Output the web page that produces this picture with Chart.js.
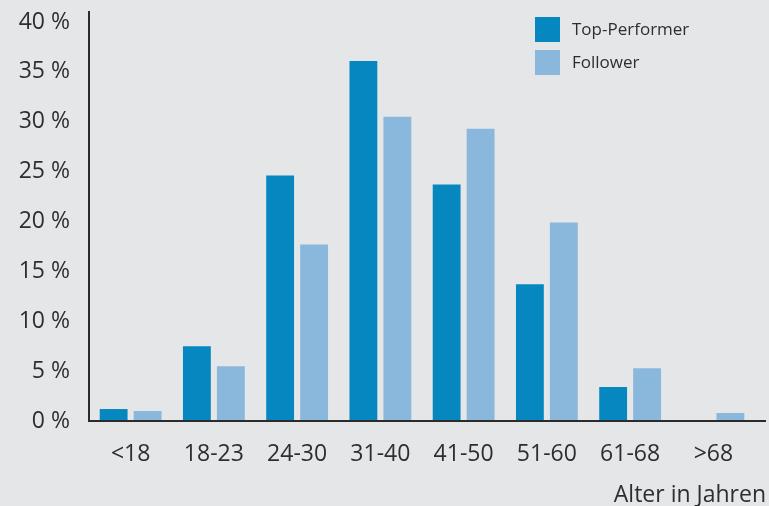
<!DOCTYPE html>
<html>
<head>
<meta charset="utf-8">
<script src="https://cdn.jsdelivr.net/npm/chart.js@4/dist/chart.umd.min.js"></script>
<style>
  html, body { margin: 0; padding: 0; background: #e5e6e8; }
  #wrap { width: 769px; height: 506px; position: relative; }
</style>
</head>
<body>
<div id="wrap"><canvas id="ageChart" width="769" height="506"></canvas></div>
<script>
// Altersverteilung, Werte in Prozent
const categories = ['<18', '18-23', '24-30', '31-40', '41-50', '51-60', '61-68', '>68'];
const topPerformer = [1.2, 7.5, 24.6, 36.1, 23.7, 13.7, 3.4, 0];
const follower = [1.0, 5.5, 17.7, 30.5, 29.3, 19.9, 5.3, 0.8];
const seriesNames = ['Top-Performer', 'Follower'];
const yTicks = [0, 5, 10, 15, 20, 25, 30, 35, 40];
const axisTitle = 'Alter in Jahren';

const textColor = '#2e2e2e';
const fontFamily = '"Open Sans", "Noto Sans", sans-serif';

// legend, axis title and the longer baseline drawn by hand
const extras = {
  id: 'extras',
  afterDraw(chart) {
    const c = chart.ctx;
    const area = chart.chartArea;
    c.save();
    // x baseline (runs a bit past the plot area)
    c.strokeStyle = '#2b2b2b';
    c.lineWidth = 2;
    c.beginPath();
    c.moveTo(area.left - 1, area.bottom);
    c.lineTo(766, area.bottom);
    c.stroke();

    // legend
    c.font = '17px ' + fontFamily;
    c.textBaseline = 'middle';
    c.textAlign = 'left';
    chart.data.datasets.forEach((ds, i) => {
      const y = 17 + i * 33;
      c.fillStyle = ds.backgroundColor;
      c.fillRect(535, y, 25, 25);
      c.fillStyle = textColor;
      c.fillText(ds.label, 572, y + 13);
    });

    // axis title
    c.font = '23px ' + fontFamily;
    c.textAlign = 'right';
    c.fillText(axisTitle, 766, 495);
    c.restore();
  }
};

const ctx = document.getElementById('ageChart').getContext('2d');
new Chart(ctx, {
  type: 'bar',
  data: {
    labels: categories,
    datasets: [{
      label: seriesNames[0],
      data: topPerformer,
      backgroundColor: '#0787c0',
      categoryPercentage: 0.816,
      barPercentage: 0.82
    }, {
      label: seriesNames[1],
      data: follower,
      backgroundColor: '#8ab7dc',
      categoryPercentage: 0.816,
      barPercentage: 0.82
    }]
  },
  options: {
    responsive: false,
    animation: false,
    layout: { padding: { top: 12, right: 14, bottom: 0, left: 0 } },
    scales: {
      y: {
        min: 0,
        max: 41,
        afterFit: (scale) => {
          scale.width = 89;
          scale.paddingTop = 0;
          scale.paddingBottom = 0;
        },
        afterBuildTicks: (scale) => { scale.ticks = yTicks.map(v => ({ value: v })); },
        grid: { display: false, drawTicks: false },
        border: { display: true, color: '#2b2b2b', width: 2 },
        ticks: {
          padding: 19,
          color: textColor,
          font: { family: fontFamily, size: 23 },
          callback: (v) => v + ' %'
        }
      },
      x: {
        afterFit: (scale) => {
          scale.height = 85;
          scale.paddingLeft = 0;
          scale.paddingRight = 0;
        },
        grid: { display: false, drawTicks: false },
        border: { display: false },
        ticks: {
          padding: 20,
          color: textColor,
          autoSkip: false,
          maxRotation: 0,
          minRotation: 0,
          font: { family: fontFamily, size: 23 }
        }
      }
    },
    plugins: {
      legend: { display: false },
      tooltip: { enabled: false }
    }
  },
  plugins: [extras]
});
</script>
</body>
</html>
